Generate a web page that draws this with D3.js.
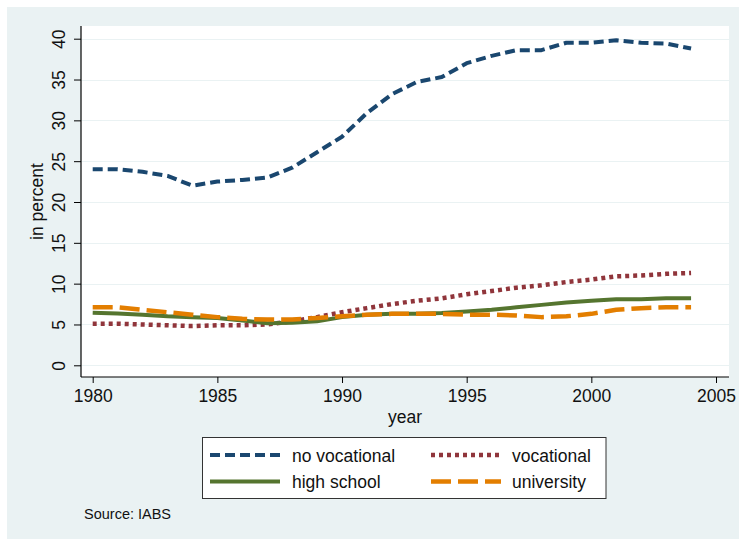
<!DOCTYPE html>
<html>
<head>
<meta charset="utf-8">
<script src="https://cdn.jsdelivr.net/npm/d3@7"></script>
<style>
  html, body { margin: 0; padding: 0; background: #ffffff; }
  svg { display: block; }
  text { font-family: "Liberation Sans", Arial, Helvetica, sans-serif; fill: #111; }
</style>
</head>
<body>
<svg id="chart" width="739" height="540"></svg>
<script>
const years = d3.range(1980, 2005);
const noVocational = [24.0, 24.0, 23.7, 23.2, 22.0, 22.5, 22.7, 23.0, 24.2, 26.1, 28.0, 30.9, 33.2, 34.7, 35.3, 37.0, 37.9, 38.6, 38.6, 39.5, 39.5, 39.8, 39.5, 39.4, 38.8];
const vocational   = [5.1, 5.1, 5.0, 4.9, 4.8, 4.9, 4.9, 5.0, 5.4, 5.9, 6.5, 7.0, 7.5, 7.9, 8.2, 8.7, 9.1, 9.5, 9.8, 10.2, 10.5, 10.9, 11.0, 11.2, 11.3];
const highSchool   = [6.45, 6.35, 6.2, 6.0, 5.9, 5.8, 5.5, 5.15, 5.2, 5.4, 5.9, 6.2, 6.3, 6.3, 6.4, 6.6, 6.8, 7.1, 7.4, 7.7, 7.9, 8.1, 8.1, 8.2, 8.2];
const university   = [7.1, 7.1, 6.8, 6.5, 6.2, 5.9, 5.7, 5.6, 5.6, 5.8, 6.0, 6.2, 6.3, 6.3, 6.3, 6.2, 6.2, 6.1, 5.9, 6.0, 6.3, 6.8, 7.0, 7.1, 7.1];
const seriesNames  = ["no vocational", "vocational", "high school", "university"];
const xTicks = [1980, 1985, 1990, 1995, 2000, 2005];
const yTicks = [0, 5, 10, 15, 20, 25, 30, 35, 40];

const styles = {
  "no vocational": { color: "#1a476f", dash: "10,5", width: 4 },
  "vocational":    { color: "#90353b", dash: "4,4", width: 4.5 },
  "high school":   { color: "#55752f", dash: null, width: 4 },
  "university":    { color: "#e37e00", dash: "20,7", width: 4.5 }
};
const seriesData = {
  "no vocational": noVocational,
  "vocational": vocational,
  "high school": highSchool,
  "university": university
};

const svg = d3.select("#chart");

// outer background
svg.append("rect").attr("x", 7).attr("y", 7).attr("width", 732).attr("height", 532).attr("fill", "#eaf2f3");

const plot = { left: 81, right: 729, top: 26, bottom: 377 };
svg.append("rect").attr("x", plot.left).attr("y", plot.top)
  .attr("width", plot.right - plot.left).attr("height", plot.bottom - plot.top).attr("fill", "#ffffff");

const x = d3.scaleLinear().domain([1980, 2005]).range([92.7, 716]);
const y = d3.scaleLinear().domain([0, 40]).range([365.3, 38.7]);

// gridlines
svg.append("g").selectAll("line").data(yTicks).join("line")
  .attr("x1", plot.left).attr("x2", plot.right)
  .attr("y1", d => Math.round(y(d)) + 0.5).attr("y2", d => Math.round(y(d)) + 0.5)
  .attr("stroke", "#eaf2f3").attr("stroke-width", 1.2);

// lines
const line = d3.line().x((d, i) => x(years[i])).y(d => y(d)).curve(d3.curveLinear);
seriesNames.forEach(name => {
  const s = styles[name];
  svg.append("path").datum(seriesData[name])
    .attr("d", line)
    .attr("fill", "none")
    .attr("stroke", s.color)
    .attr("stroke-width", s.width)
    .attr("stroke-dasharray", s.dash)
    .attr("stroke-linejoin", "round");
});

// y axis
const yAxis = svg.append("g").attr("transform", `translate(${plot.left},0)`)
  .call(d3.axisLeft(y).tickValues(yTicks).tickSize(7).tickSizeOuter(0).tickFormat(d3.format("d")));
yAxis.select(".domain").attr("d", `M0,${plot.top}V${plot.bottom}`).attr("stroke", "#000").attr("stroke-width", 1.2);
yAxis.selectAll(".tick line").attr("stroke", "#000").attr("stroke-width", 1);
yAxis.selectAll(".tick text")
  .attr("x", null).attr("dy", null)
  .attr("transform", "translate(-16,0) rotate(-90)")
  .attr("text-anchor", "middle")
  .style("font-size", "17.5px")
  .style("font-family", "'Liberation Sans', Arial, sans-serif")
  .attr("fill", "#111");

// x axis
const xAxis = svg.append("g").attr("transform", `translate(0,${plot.bottom})`)
  .call(d3.axisBottom(x).tickValues(xTicks).tickSize(6).tickSizeOuter(0).tickFormat(d3.format("d")));
xAxis.select(".domain").attr("d", `M${plot.left},0H${plot.right}`).attr("stroke", "#000").attr("stroke-width", 1.2);
xAxis.selectAll(".tick line").attr("stroke", "#000").attr("stroke-width", 1);
xAxis.selectAll(".tick text")
  .attr("y", 25).attr("dy", null)
  .style("font-size", "17.5px")
  .style("font-family", "'Liberation Sans', Arial, sans-serif")
  .attr("fill", "#111");

// axis titles
svg.append("text").attr("x", (plot.left + plot.right) / 2).attr("y", 423)
  .attr("text-anchor", "middle").style("font-size", "17.5px").text("year");
svg.append("text").attr("transform", `translate(43,${(plot.top + plot.bottom) / 2}) rotate(-90)`)
  .attr("text-anchor", "middle").style("font-size", "17.5px").text("in percent");

// legend
const lg = svg.append("g");
lg.append("rect").attr("x", 202.5).attr("y", 437.5).attr("width", 403.5).attr("height", 61)
  .attr("fill", "#ffffff").attr("stroke", "#333").attr("stroke-width", 1);
const legendPos = [
  { name: "no vocational", lx: 210, tx: 292, cy: 455 },
  { name: "vocational",    lx: 431, tx: 512, cy: 455 },
  { name: "high school",   lx: 210, tx: 292, cy: 481.5 },
  { name: "university",    lx: 431, tx: 512, cy: 481.5 }
];
legendPos.forEach(p => {
  const s = styles[p.name];
  lg.append("line").attr("x1", p.lx).attr("x2", p.lx + 70).attr("y1", p.cy).attr("y2", p.cy)
    .attr("stroke", s.color).attr("stroke-width", s.width).attr("stroke-dasharray", s.dash);
  lg.append("text").attr("x", p.tx).attr("y", p.cy + 6.5).style("font-size", "17.5px").text(p.name);
});

// source note
svg.append("text").attr("x", 84).attr("y", 519).style("font-size", "14.5px").text("Source: IABS");
</script>
</body>
</html>
